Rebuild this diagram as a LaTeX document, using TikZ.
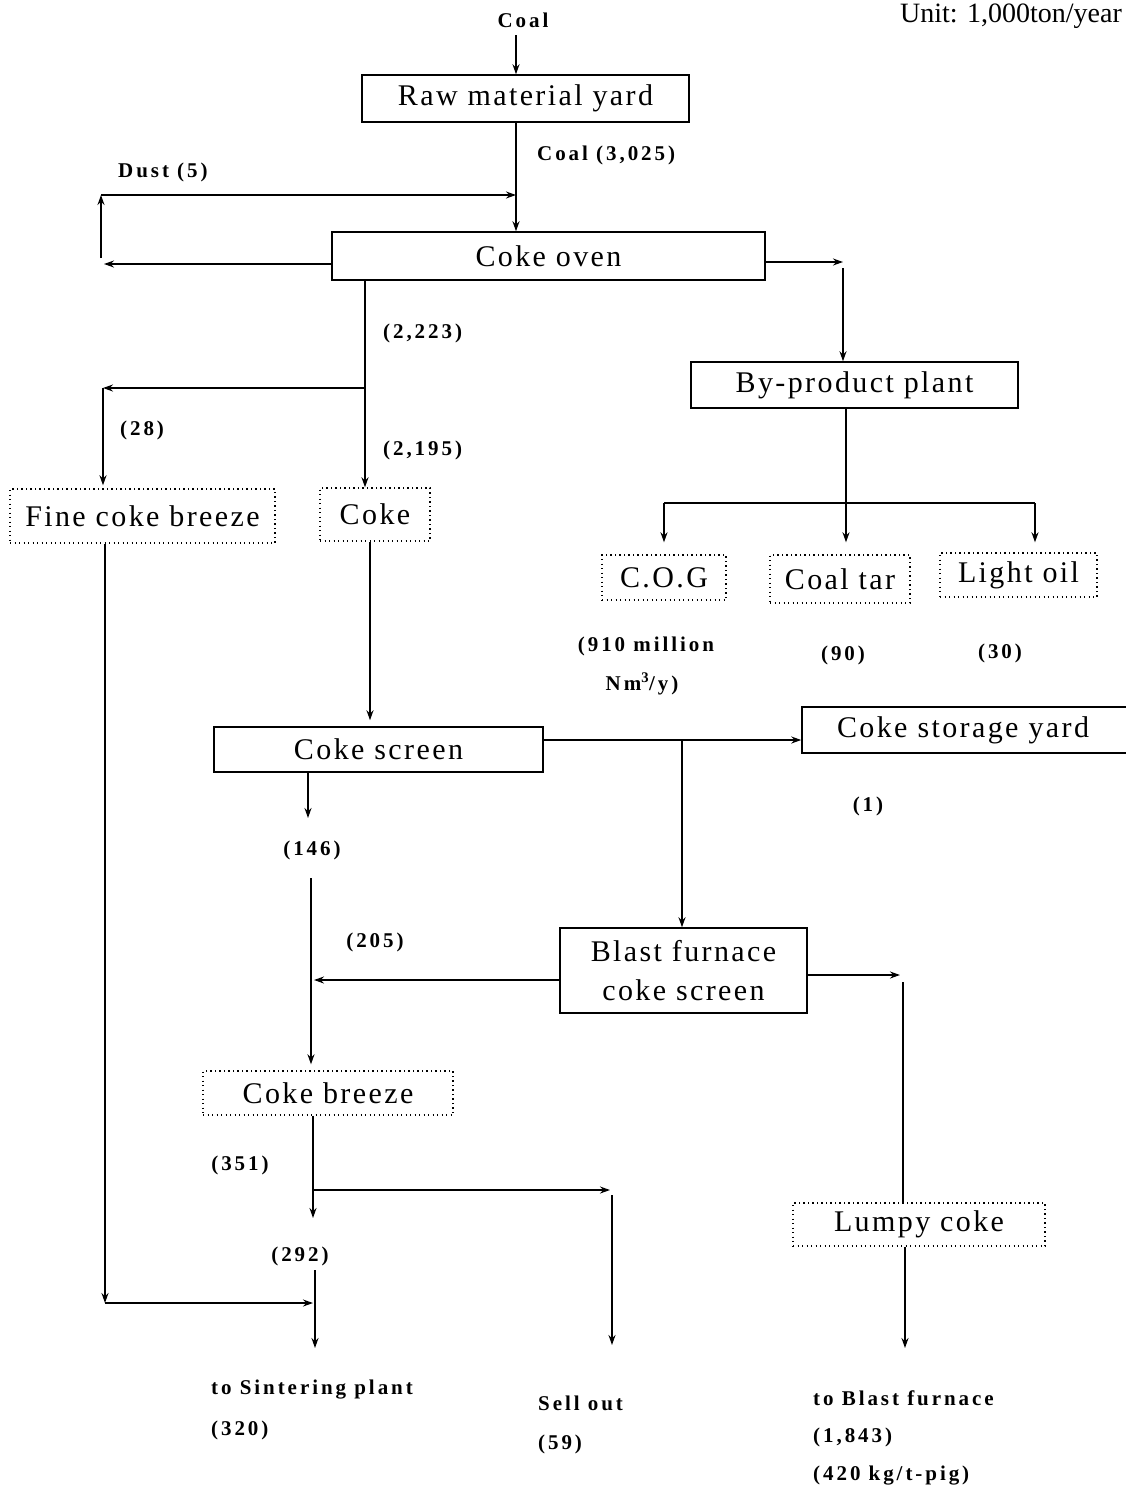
\documentclass[tikz,border=0pt]{standalone}
\usepackage{fontspec}
\setmainfont{Liberation Serif}
\newfontfamily\boxfont[LetterSpace=8]{Liberation Serif}
\newfontfamily\lblfont[LetterSpace=14]{Liberation Serif}
\usetikzlibrary{arrows.meta,calc}

\tikzset{
  flow/.style={line width=1.5pt,-{Stealth[length=10pt,width=7pt]}},
  plain/.style={line width=1.5pt},
  unitbox/.style={draw,line width=1.5pt,inner sep=0pt,
    font=\boxfont\fontsize{30}{39}\selectfont},
  itembox/.style={draw,line width=1.4pt,dash pattern=on 1.3pt off 3.2pt,inner sep=0pt,
    font=\boxfont\fontsize{30}{39}\selectfont},
  lbl/.style={inner sep=0pt,font=\lblfont\bfseries\fontsize{21}{25}\selectfont},
}

\begin{document}
\begin{tikzpicture}[x=1pt,y=-1pt]
\useasboundingbox (0,0) rectangle (1126,1489);

% ---- units note
\node[anchor=base east,inner sep=0pt,font=\fontsize{28}{30}\selectfont] (unit) at (1122,22) {Unit: 1,000ton/year};

% ---- process units (solid) and products (dotted)
\node[unitbox,minimum width=327pt,minimum height=47pt] (raw) at (525.5,98.5) {Raw material yard};
\node[unitbox,minimum width=433pt,minimum height=48pt] (oven) at (548.5,256) {Coke oven};
\node[unitbox,minimum width=327pt,minimum height=46pt] (byp) at (854.5,385) {By-product plant};
\node[itembox,minimum width=124pt,minimum height=45pt] (cog) at (664,577.5) {C.O.G};
\node[itembox,minimum width=140pt,minimum height=48pt] (tar) at (840,579) {Coal tar};
\node[itembox,minimum width=157pt,minimum height=44pt] (oil) at (1018.5,575) {Light oil};
\node[itembox,minimum width=265pt,minimum height=54pt] (fine) at (142.5,516) {Fine coke breeze};
\node[itembox,minimum width=110pt,minimum height=53pt] (coke) at (375,514.5) {Coke};
\node[unitbox,minimum width=329pt,minimum height=45pt] (screen) at (378.5,749.5) {Coke screen};
\node[unitbox,minimum width=334pt,minimum height=46pt,text width=300pt,align=left] (storage) at (969,730) {\hspace*{18pt}Coke storage yard};
\node[unitbox,minimum width=247pt,minimum height=85pt,align=center] (bfs) at (683.5,970.5) {Blast furnace\\coke screen};
\node[itembox,minimum width=250pt,minimum height=44pt] (breeze) at (328,1093) {Coke breeze};
\node[itembox,minimum width=252pt,minimum height=43pt] (lumpy) at (919,1224.5) {Lumpy coke};

% ---- flow labels
\node[lbl] (lcoal) at (523,20) {Coal};
\node[lbl,anchor=west] (l3025) at (537,155) {Coal (3,025)};
\node[lbl,anchor=west] (ldust) at (118,172) {Dust (5)};
\node[lbl,anchor=west] (l2223) at (383,333) {(2,223)};
\node[lbl,anchor=west] (l28) at (120,430) {(28)};
\node[lbl,anchor=west] (l2195) at (383,450) {(2,195)};
\node[lbl] (l910a) at (646,646) {(910 million};
\node[lbl] (l910b) at (642,684) {Nm\textsuperscript{3}/y)};
\node[lbl] (l90) at (843,655) {(90)};
\node[lbl] (l30) at (1000,653) {(30)};
\node[lbl] (l1) at (868,806) {(1)};
\node[lbl] (l146) at (312,850) {(146)};
\node[lbl] (l205) at (375,942) {(205)};
\node[lbl] (l351) at (240,1165) {(351)};
\node[lbl] (l292) at (300,1256) {(292)};
\node[lbl,anchor=west] (lsint) at (211,1390) {to Sintering plant};
\node[lbl,anchor=west] (l320) at (211,1430) {(320)};
\node[lbl,anchor=west] (lsell) at (538,1403) {Sell out};
\node[lbl,anchor=west] (l59) at (538,1444) {(59)};
\node[lbl,anchor=west] (lbf) at (813,1398) {to Blast furnace};
\node[lbl,anchor=west] (l1843) at (813,1437) {(1,843)};
\node[lbl,anchor=west] (l420) at (813,1476) {(420 kg/t-pig)};

% ---- junction points of the flow lines
\coordinate (xa) at (516,0);
\coordinate (coalTop) at (516,35);
\coordinate (dA) at (104,264);
\coordinate (dB) at (101,258);
\coordinate (dC) at (101,195);
\coordinate (ovR) at (843,262);
\coordinate (ovR2) at (843,268);
\coordinate (bj) at (846,503);
\coordinate (bjR) at (1035,503);
\coordinate (cx) at (365,388);
\coordinate (fx) at (103,388);
\coordinate (fb) at (105,1303);
\coordinate (sj) at (313,1303);
\coordinate (sx) at (370,0);
\coordinate (sr) at (682,740);
\coordinate (s146) at (308,818);
\coordinate (v1) at (311,878);
\coordinate (bl) at (314,980);
\coordinate (br) at (900,975);
\coordinate (br2) at (903,982);
\coordinate (lb) at (905,1348);
\coordinate (bx) at (313,1218);
\coordinate (hj) at (313,1190);
\coordinate (hs) at (610,1190);
\coordinate (hs2) at (612,1195);
\coordinate (sellEnd) at (612,1345);
\coordinate (v2) at (315,1270);
\coordinate (sintEnd) at (315,1348);

% ---- coal in
\draw[flow] (coalTop) -- (raw.north -| xa);
\draw[flow] (raw.south -| xa) -- (oven.north -| xa);

% ---- dust return loop
\draw[flow] (oven.west |- dA) -- (dA);
\draw[flow] (dB) -- (dC);
\draw[flow] (dC) -- (dC -| xa);

% ---- gas to by-product plant
\draw[flow] (oven.east |- ovR) -- (ovR);
\draw[flow] (ovR2) -- (byp.north -| ovR2);
\draw[flow,shorten >=12pt] (byp.south -| bj) -- (tar.north -| bj);
\draw[plain] (bj -| cog.north) -- (bjR);
\draw[flow,shorten >=12pt] (bj -| cog.north) -- (cog.north);
\draw[flow,shorten >=10pt] (bjR) -- (oil.north -| bjR);

% ---- coke oven output
\draw[flow] (oven.south -| cx) -- (coke.north -| cx);
\draw[flow] (cx) -- (fx);
\draw[flow,shorten >=3pt] (fx) -- (fine.north -| fx);

% ---- fine coke breeze to sintering
\draw[flow] (fine.south -| fb) -- (fb);
\draw[flow] (fb) -- (sj);

% ---- coke screening
\draw[flow,shorten >=6pt] (coke.south -| sx) -- (screen.north -| sx);
\draw[flow] (screen.east |- sr) -- (storage.west |- sr);
\draw[flow] (sr) -- (bfs.north -| sr);
\draw[flow] (screen.south -| s146) -- (s146);
\draw[flow,shorten >=6pt] (v1) -- (breeze.north -| v1);

% ---- blast furnace coke screen
\draw[flow] (bfs.west |- bl) -- (bl);
\draw[flow] (bfs.east |- br) -- (br);
\draw[plain] (br2) -- (lumpy.north -| br2);
\draw[flow] (lumpy.south -| lb) -- (lb);

% ---- coke breeze split
\draw[flow] (breeze.south -| bx) -- (bx);
\draw[flow] (hj) -- (hs);
\draw[flow] (hs2) -- (sellEnd);
\draw[flow] (v2) -- (sintEnd);

\end{tikzpicture}
\end{document}
